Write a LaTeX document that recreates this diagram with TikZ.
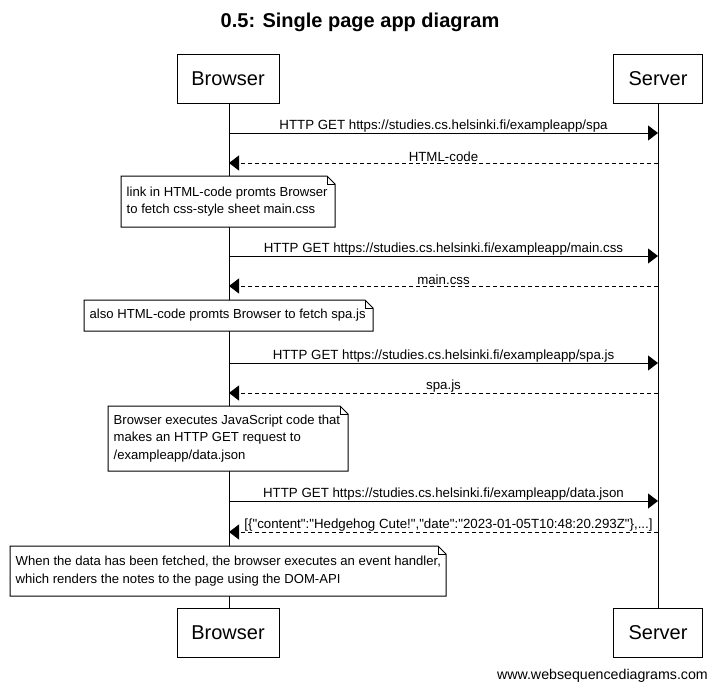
\documentclass[tikz,border=0pt]{standalone}
\usepackage{fontspec}
\setmainfont{Liberation Sans}
\newfontfamily\plainfont{Liberation Sans}
\usetikzlibrary{arrows.meta}
\begin{document}
\begin{tikzpicture}[x=1pt,y=-1pt,
  actor/.style={draw, line width=1pt, inner sep=0pt, minimum height=49pt,
    font=\fontsize{20}{24}\selectfont},
  lifeline/.style={line width=1pt},
  req/.style={line width=1pt, -{Triangle[length=10pt,width=15pt]}},
  resp/.style={req, dash pattern=on 4pt off 3pt},
  msglabel/.style={font=\plainfont\fontsize{13.3}{15}\selectfont, inner sep=0pt},
  notetext/.style={inner sep=0pt, anchor=west, align=left, font=\fontsize{13.1}{17.5}\selectfont},
  noteline/.style={line width=1pt, fill=white},
]
\useasboundingbox (0,0) rectangle (717,691);

% title
\node[font=\bfseries\fontsize{20}{24}\selectfont] (title) at (360,22) {0.5: Single page app diagram};

% actors
\node[actor, minimum width=102pt] (bt) at (228,78.5) {Browser};
\node[actor, minimum width=89pt] (st) at (658,78.5) {Server};
\node[actor, minimum width=102pt] (bb) at (228,632.5) {Browser};
\node[actor, minimum width=89pt] (sb) at (658,632.5) {Server};

\coordinate (bl1) at (229,103);
\coordinate (bl2) at (229,608);
\coordinate (sl1) at (658,103);
\coordinate (sl2) at (658,608);
\draw[lifeline] (bl1) -- (bl2);
\draw[lifeline] (sl1) -- (sl2);

% messages
\foreach \n/\y in {1/133,2/163,3/256,4/286,5/363,6/393,7/501,8/532}{
  \coordinate (b\n) at (229,\y);
  \coordinate (s\n) at (658,\y);
}
\draw[req] (b1) -- (s1) node[msglabel, midway, above=0.5pt] (m1) {HTTP GET https://studies.cs.helsinki.fi/exampleapp/spa};
\draw[resp] (s2) -- (b2) node[msglabel, midway, above=0.5pt] (m2) {HTML-code};
\draw[req] (b3) -- (s3) node[msglabel, midway, above=0.5pt] (m3) {HTTP GET https://studies.cs.helsinki.fi/exampleapp/main.css};
\draw[resp] (s4) -- (b4) node[msglabel, midway, above=0.5pt] (m4) {main.css};
\draw[req] (b5) -- (s5) node[msglabel, midway, above=0.5pt] (m5) {HTTP GET https://studies.cs.helsinki.fi/exampleapp/spa.js};
\draw[resp] (s6) -- (b6) node[msglabel, midway, above=0.5pt] (m6) {spa.js};
\draw[req] (b7) -- (s7) node[msglabel, midway, above=0.5pt] (m7) {HTTP GET https://studies.cs.helsinki.fi/exampleapp/data.json};
\draw[resp] (s8) -- (b8) node[msglabel, midway, above=0.5pt, xshift=5pt] (m8) {[\{"content":"Hedgehog Cute!","date":"2023-01-05T10:48:20.293Z"\},...]};

% notes: \mynote{name}{x1}{y1}{x2}{y2}{text}
\newcommand{\mynote}[6]{%
  \draw[noteline] (#2,#3) -- (#4-8,#3) -- (#4,#3+8) -- (#4,#5) -- (#2,#5) -- cycle;
  \draw[line width=1pt] (#4-8,#3) -- (#4-8,#3+8) -- (#4,#3+8);
  \node[notetext] (#1) at (#2+5.5,{(#3+#5)/2}) {#6};
}
\mynote{n1}{121}{176}{335}{227}{link in HTML-code promts Browser\\to fetch css-style sheet main.css}
\mynote{n2}{84}{300}{373}{331}{also HTML-code promts Browser to fetch spa.js}
\mynote{n3}{108}{406}{348}{471}{Browser executes JavaScript code that\\makes an HTTP GET request to\\/exampleapp/data.json}
\mynote{n4}{10}{546}{446}{596}{When the data has been fetched, the browser executes an event handler,\\which renders the notes to the page using the DOM-API}

% footer
\node[msglabel, font=\fontsize{14.2}{16}\selectfont, anchor=east] (footer) at (708,676) {www.websequencediagrams.com};
\end{tikzpicture}
\end{document}
